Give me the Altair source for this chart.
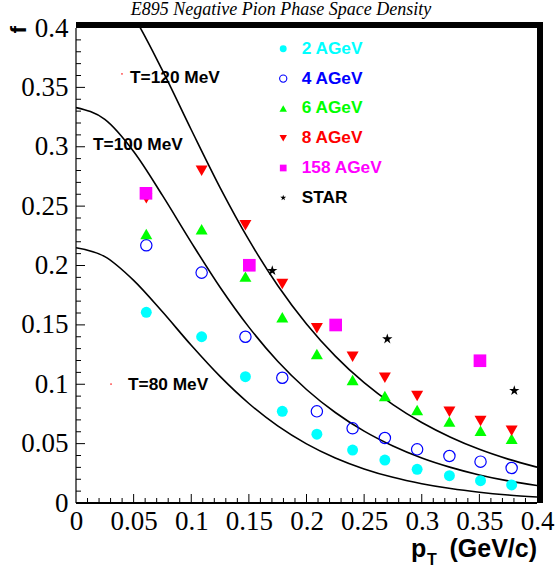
import altair as alt
import pandas as pd

# ---------------- data ----------------
pt = [0.061, 0.109, 0.147, 0.179, 0.209, 0.240, 0.268, 0.296, 0.324, 0.351, 0.378]
f_2agev = [0.1606, 0.1400, 0.1064, 0.0772, 0.0579, 0.0446, 0.0362, 0.0284, 0.0230, 0.0188, 0.0152]
f_4agev = [0.217, 0.194, 0.140, 0.1055, 0.0772, 0.0629, 0.0547, 0.0452, 0.0396, 0.0348, 0.0295]
f_6agev = [0.2265, 0.2305, 0.1906, 0.1564, 0.1255, 0.1036, 0.0901, 0.0783, 0.0685, 0.0609, 0.0541]
f_8agev = [0.2565, 0.2798, 0.2339, 0.1844, 0.1471, 0.1232, 0.1055, 0.0901, 0.0769, 0.0691, 0.0609]
pt_158 = [0.0607, 0.1504, 0.2253, 0.3505]
f_158 = [0.2608, 0.2002, 0.1499, 0.1198]
pt_star = [0.1703, 0.2701, 0.3803]
f_star = [0.1956, 0.1381, 0.0946]

# theory curves
pt_curve = [0, 0.025, 0.05, 0.075, 0.1, 0.125, 0.15, 0.175, 0.2, 0.225, 0.25,
            0.275, 0.3, 0.325, 0.35, 0.375, 0.4]
f_T80 = [0.2150, 0.2075, 0.1875, 0.1610, 0.1328, 0.1066, 0.0838, 0.0649, 0.0498,
         0.0379, 0.0287, 0.0216, 0.01625, 0.01217, 0.00909, 0.00677, 0.00504]
f_T100 = [0.3330, 0.3230, 0.2960, 0.2590, 0.2195, 0.1817, 0.1481, 0.1194, 0.0956,
          0.0762, 0.0605, 0.0480, 0.0379, 0.0300, 0.02365, 0.01863, 0.01467]
f_T120 = [0.4546, 0.4426, 0.4098, 0.3643, 0.3143, 0.2656, 0.2215, 0.1832, 0.1508,
          0.1237, 0.1013, 0.0829, 0.0678, 0.0554, 0.0452, 0.03695, 0.0302]

series_names = ["2 AGeV", "4 AGeV", "6 AGeV", "8 AGeV", "158 AGeV", "STAR"]
curve_labels = ["T=120 MeV", "T=100 MeV", "T=80 MeV"]
curve_label_x = [0.0469, 0.0148, 0.0451]
curve_label_y = [0.3579, 0.3015, 0.0994]
stray_x = [0.0399, 0.0304]
stray_y = [0.3613, 0.1002]

legend_marker_x = 0.1798
legend_text_x = 0.1958
legend_y = [0.3825, 0.3574, 0.3323, 0.3072, 0.2821, 0.2570]

tick_values = [0, 0.05, 0.1, 0.15, 0.2, 0.25, 0.3, 0.35, 0.4]
major_ticks = [0.05, 0.1, 0.15, 0.2, 0.25, 0.3, 0.35]
minor_ticks = [round(i * 0.01, 2) for i in range(1, 40) if i % 5 != 0]

# ---------------- styling ----------------
W, H = 461, 475
SERIF = "Liberation Serif"
SANS = "Liberation Sans"
STAR_PATH = ("M0,-1L0.2245,-0.309L0.9511,-0.309L0.3633,0.118L0.5878,0.809L0,0.382"
             "L-0.5878,0.809L-0.3633,0.118L-0.9511,-0.309L-0.2245,-0.309Z")
styles = [
    dict(color="#00ffff", shape="circle", filled=True, size=120, lsize=48),
    dict(color="#0000ff", shape="circle", filled=False, size=128, lsize=52),
    dict(color="#00ff00", shape="triangle-up", filled=True, size=144, lsize=56),
    dict(color="#ff0000", shape="triangle-down", filled=True, size=144, lsize=56),
    dict(color="#ff00ff", shape="square", filled=True, size=160, lsize=45),
    dict(color="black", shape=STAR_PATH, filled=True, size=117, lsize=38),
]
TXT = 17.3

xscale = alt.Scale(domain=[0, 0.4], nice=False, zero=False)
yscale = alt.Scale(domain=[0, 0.4], nice=False, zero=False)
common_axis = dict(values=tick_values, format="~g", labelFont=SERIF,
                   labelFontSize=27, labelColor="black", ticks=False, domain=False,
                   grid=False, labelFlush=False, labelOverlap=False)
xaxis = alt.Axis(labelPadding=5, **common_axis)
yaxis = alt.Axis(labelPadding=8, **common_axis)


def X(field="x"):
    return alt.X(f"{field}:Q", scale=xscale, axis=xaxis, title=None)


def Y(field="y"):
    return alt.Y(f"{field}:Q", scale=yscale, axis=yaxis, title=None)


one = pd.DataFrame({"a": [0]})
layers = []

# curves
curve_rows = []
for name, vals in zip(["T120", "T100", "T80"], [f_T120, f_T100, f_T80]):
    for xv, yv in zip(pt_curve, vals):
        curve_rows.append({"x": xv, "y": yv, "T": name})
curves = alt.Chart(pd.DataFrame(curve_rows)).mark_line(
    color="black", strokeWidth=1.6, clip=True, interpolate="monotone"
).encode(x=X(), y=Y(), detail="T:N")
layers.append(curves)

# data points
series_data = [(pt, f_2agev), (pt, f_4agev), (pt, f_6agev), (pt, f_8agev),
               (pt_158, f_158), (pt_star, f_star)]
for (xs, ys), st in zip(series_data, styles):
    df = pd.DataFrame({"x": xs, "y": ys})
    if st["filled"]:
        mk = alt.Chart(df).mark_point(filled=True, opacity=1, shape=st["shape"],
                                      size=st["size"], color=st["color"], strokeWidth=0)
    else:
        mk = alt.Chart(df).mark_point(filled=False, opacity=1, shape=st["shape"],
                                      size=st["size"], color=st["color"], strokeWidth=1.2)
    layers.append(mk.encode(x=X(), y=Y()))

# legend
for name, ly, st in zip(series_names, legend_y, styles):
    df = pd.DataFrame({"x": [legend_marker_x], "y": [ly]})
    if st["filled"]:
        mk = alt.Chart(df).mark_point(filled=True, opacity=1, shape=st["shape"],
                                      size=st["lsize"], color=st["color"], strokeWidth=0)
    else:
        mk = alt.Chart(df).mark_point(filled=False, opacity=1, shape=st["shape"],
                                      size=st["lsize"], color=st["color"], strokeWidth=1.1)
    layers.append(mk.encode(x=X(), y=Y()))
    tdf = pd.DataFrame({"x": [legend_text_x], "y": [ly], "t": [name]})
    layers.append(alt.Chart(tdf).mark_text(
        align="left", baseline="middle", font=SANS, fontWeight="bold",
        fontSize=TXT, color=st["color"]
    ).encode(x=X(), y=Y(), text="t:N"))

# curve labels
ldf = pd.DataFrame({"x": curve_label_x, "y": curve_label_y, "t": curve_labels})
layers.append(alt.Chart(ldf).mark_text(
    align="left", baseline="middle", font=SANS, fontWeight="bold",
    fontSize=TXT, color="black"
).encode(x=X(), y=Y(), text="t:N"))

sdf = pd.DataFrame({"x": stray_x, "y": stray_y})
layers.append(alt.Chart(sdf).mark_point(filled=True, opacity=0.6, size=3,
                                        color="#ff0000", shape="square", strokeWidth=0)
              .encode(x=X(), y=Y()))

# inward ticks
layers.append(alt.Chart(pd.DataFrame({"x": major_ticks})).mark_rule(color="black", strokeWidth=1)
              .encode(x=X(), y=alt.value(H), y2=alt.value(H - 9)))
layers.append(alt.Chart(pd.DataFrame({"x": minor_ticks})).mark_rule(color="black", strokeWidth=1)
              .encode(x=X(), y=alt.value(H), y2=alt.value(H - 5)))
layers.append(alt.Chart(pd.DataFrame({"y": major_ticks})).mark_rule(color="black", strokeWidth=1)
              .encode(y=Y(), x=alt.value(0), x2=alt.value(9)))
layers.append(alt.Chart(pd.DataFrame({"y": minor_ticks})).mark_rule(color="black", strokeWidth=1)
              .encode(y=Y(), x=alt.value(0), x2=alt.value(5)))

# frame
layers.append(alt.Chart(one).mark_rule(color="black", strokeWidth=1.2)
              .encode(x=alt.value(0), y=alt.value(0), y2=alt.value(H)))
layers.append(alt.Chart(one).mark_rule(color="black", strokeWidth=2)
              .encode(x=alt.value(0), x2=alt.value(W), y=alt.value(H)))
layers.append(alt.Chart(one).mark_rect(color="black")
              .encode(x=alt.value(0), x2=alt.value(W + 6), y=alt.value(-6), y2=alt.value(0)))
layers.append(alt.Chart(one).mark_rect(color="black")
              .encode(x=alt.value(W), x2=alt.value(W + 6), y=alt.value(-6), y2=alt.value(H)))

# titles
layers.append(alt.Chart(one).mark_text(
    align="center", baseline="alphabetic", font=SERIF, fontStyle="italic",
    fontSize=18, color="black"
).encode(x=alt.value(205), y=alt.value(-13), text=alt.value("E895 Negative Pion Phase Space Density")))

layers.append(alt.Chart(one).mark_text(
    align="left", baseline="alphabetic", font=SANS, fontWeight="bold",
    fontSize=22.5, color="black", angle=270
).encode(x=alt.value(-50.5), y=alt.value(5.5), text=alt.value("f")))

layers.append(alt.Chart(one).mark_text(
    align="left", baseline="alphabetic", font=SANS, fontWeight="bold",
    fontSize=25, color="black"
).encode(x=alt.value(335), y=alt.value(529), text=alt.value("p")))
layers.append(alt.Chart(one).mark_text(
    align="left", baseline="alphabetic", font=SANS, fontWeight="bold",
    fontSize=16, color="black"
).encode(x=alt.value(351), y=alt.value(537), text=alt.value("T")))
layers.append(alt.Chart(one).mark_text(
    align="right", baseline="alphabetic", font=SANS, fontWeight="bold",
    fontSize=25, color="black"
).encode(x=alt.value(461), y=alt.value(529), text=alt.value("(GeV/c)")))

chart = alt.layer(*layers).properties(
    width=W, height=H,
    autosize=alt.AutoSizeParams(type="none"),
    padding={"left": 76, "top": 28, "right": 19, "bottom": 66},
    background="white",
).configure_view(strokeWidth=0).configure_axis(labelFont=SERIF)

chart.save("out.html", embed_options={"renderer": "svg", "actions": False})
